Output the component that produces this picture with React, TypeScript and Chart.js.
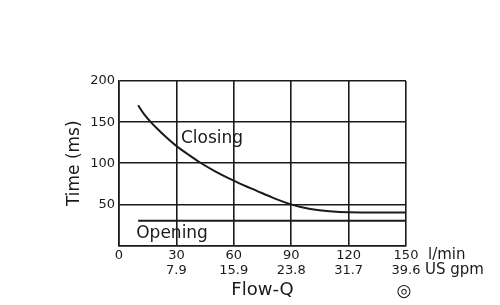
import React, { useEffect, useRef } from "react";
import { Chart, registerables } from "chart.js";

Chart.register(...registerables);

const flowTicks = [0, 30, 60, 90, 120, 150];
const gpmLabels = ["", "7.9", "15.9", "23.8", "31.7", "39.6"];
const timeTicks = [50, 100, 150, 200];

const closingFlow = [10, 13, 17, 20, 25, 30, 36, 43, 50, 58, 65, 72, 80, 85, 90, 95, 100, 110, 120, 135, 150];
const closingTime = [170.5, 160, 149, 142, 131, 121, 111, 100, 90.5, 81, 73.5, 66.5, 58.5, 54, 50, 46.8, 44.5, 41.7, 40.3, 40, 40];

const openingFlow = [10, 150];
const openingTime = [30, 30];

const FONT = "'DejaVu Sans', sans-serif";
const INK = "#1a1a1a";

export default function App() {
  const ref = useRef<HTMLCanvasElement | null>(null);
  useEffect(() => {
    const canvas = ref.current!;
    const extras = {
      id: "extras",
      afterDraw(chart: any) {
        const ctx = chart.ctx;
        const { left, right, top, bottom } = chart.chartArea;
        const xs = chart.scales.x;
        const ys = chart.scales.y;
        ctx.save();
        ctx.fillStyle = INK;
        ctx.textBaseline = "middle";
        // in-plot labels
        ctx.font = `17px ${FONT}`;
        ctx.textAlign = "left";
        ctx.fillText("Closing", xs.getPixelForValue(32.4), ys.getPixelForValue(130));
        ctx.fillText("Opening", xs.getPixelForValue(9), ys.getPixelForValue(15));
        // units
        ctx.font = `15px ${FONT}`;
        ctx.fillText("l/min", right + 22, bottom + 10);
        ctx.fillText("US gpm", right + 19, bottom + 25);
        // x title
        ctx.font = `18px ${FONT}`;
        ctx.textAlign = "center";
        ctx.fillText("Flow-Q", (left + right) / 2, bottom + 45);
        ctx.font = `17px ${FONT}`;
        ctx.fillText("◎", right - 2, bottom + 46);
        // y title
        ctx.font = `17px ${FONT}`;
        ctx.translate(left - 44, (top + bottom) / 2);
        ctx.rotate(-Math.PI / 2);
        ctx.fillText("Time (ms)", 0, 0);
        ctx.restore();
      },
    };
    const chart = new Chart(canvas, {
      type: "line",
      data: {
        datasets: [
          {
            label: "Closing",
            data: closingFlow.map((x, i) => ({ x, y: closingTime[i] })),
            borderColor: INK,
            borderWidth: 2,
            pointRadius: 0,
            cubicInterpolationMode: "monotone",
          },
          {
            label: "Opening",
            data: openingFlow.map((x, i) => ({ x, y: openingTime[i] })),
            borderColor: INK,
            borderWidth: 2,
            pointRadius: 0,
          },
        ],
      },
      options: {
        animation: false,
        responsive: true,
        maintainAspectRatio: false,
        layout: { padding: { top: 81, right: 94, left: 0, bottom: 0 } },
        plugins: { legend: { display: false }, tooltip: { enabled: false } },
        scales: {
          x: {
            type: "linear",
            min: 0,
            max: 150,
            afterBuildTicks: (s: any) => {
              s.ticks = flowTicks.map((v) => ({ value: v }));
            },
            afterFit: (s: any) => {
              s.height = 59.5;
            },
            grid: { color: INK, lineWidth: 1.6, drawTicks: false },
            border: { color: INK, width: 1.6 },
            ticks: {
              color: INK,
              font: { family: FONT, size: 13, lineHeight: 1.15 },
              padding: 3,
              maxRotation: 0,
              autoSkip: false,
              callback: (v: any) => {
                const i = flowTicks.indexOf(Number(v));
                return gpmLabels[i] ? [String(v), gpmLabels[i]] : String(v);
              },
            },
          },
          y: {
            type: "linear",
            min: 0,
            max: 200,
            afterBuildTicks: (s: any) => {
              s.ticks = [0, ...timeTicks].map((v) => ({ value: v }));
            },
            afterFit: (s: any) => {
              s.width = 119;
            },
            grid: { color: INK, lineWidth: 1.6, drawTicks: false },
            border: { color: INK, width: 1.6 },
            ticks: {
              color: INK,
              font: { family: FONT, size: 13 },
              padding: 4,
              callback: (v: any) => (Number(v) === 0 ? "" : String(v)),
            },
          },
        },
      },
      plugins: [extras],
    } as any);
    return () => chart.destroy();
  }, []);
  return (
    <div style={{ position: "fixed", left: 0, top: 0, width: 500, height: 305, background: "#fff" }}>
      <canvas ref={ref} />
    </div>
  );
}
